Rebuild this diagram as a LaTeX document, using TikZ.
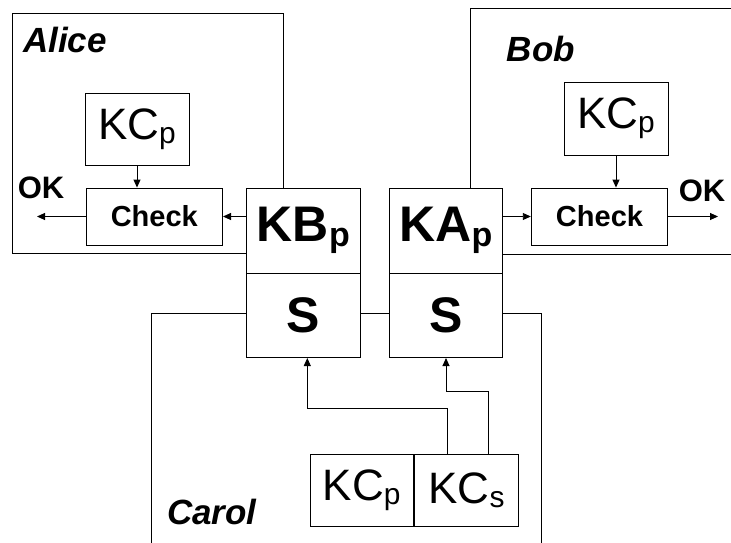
\documentclass[tikz,border=0pt]{standalone}
\usepackage{fontspec}
\setmainfont{Liberation Sans}
\usetikzlibrary{arrows.meta}
\newcommand\sbs[1]{\raisebox{-0.1em}{\scalebox{0.68}{#1}}}
\tikzset{
	box/.style={draw,inner sep=0pt},
	kc/.style={box,font=\fontsize{44}{44}\selectfont},
	key/.style={box,minimum width=113.5pt,font=\bfseries\fontsize{50}{50}\selectfont},
	check/.style={box,minimum width=136.5pt,minimum height=57pt,font=\bfseries\fontsize{29}{29}\selectfont},
	ok/.style={font=\bfseries\fontsize{31}{31}\selectfont},
	party/.style={font=\bfseries\itshape\fontsize{35}{35}\selectfont}
}
\begin{document}
\begin{tikzpicture}[x=1pt,y=-1pt,line width=0.9pt,>={Triangle[length=8pt,width=7pt]}]
		\useasboundingbox (0,0) rectangle (731,542);
		% keys in the middle
		\node[key,minimum height=84.7pt] (kb) at (303.3,230.6) {KB\sbs{p}};
		\node[key,minimum height=83.7pt,anchor=north] (kbs) at (kb.south) {S};
		\node[key,minimum height=84.7pt] (ka) at (446,230.6) {KA\sbs{p}};
		\node[key,minimum height=83.7pt,anchor=north] (kas) at (ka.south) {S};
		% Alice
		\node[party] (alice) at (65,40) {Alice};
		\node[kc,minimum width=104pt,minimum height=72pt] (alicekc) at (137,129) {KC\sbs{p}};
		\node[check] (alicecheck) at (154.3,216.5) {Check};
		\node[ok] (aliceok) at (41,188) {OK};
		\coordinate (aliceout) at (37,216.5);
		\draw[->] (alicekc.south) -- (alicekc.south |- alicecheck.north);
		\draw[->] (kb.west |- alicecheck.east) -- (alicecheck.east);
		\draw[->] (alicecheck.west) -- (aliceout);
		\draw ([yshift=-22.6pt]kb.west) -| (12,13) -| ([xshift=-20.3pt]kb.north);
		% Bob
		\node[party] (bob) at (541,49) {Bob};
		\node[kc,minimum width=104pt,minimum height=73pt] (bobkc) at (616,118.5) {KC\sbs{p}};
		\node[check] (bobcheck) at (599.5,216.5) {Check};
		\node[ok] (bobok) at (702,191) {OK};
		\coordinate (bobout) at (718,216.5);
		\draw[->] (bobkc.south) -- (bobkc.south |- bobcheck.north);
		\draw[->] (ka.east |- bobcheck.west) -- (bobcheck.west);
		\draw[->] (bobcheck.east) -- (bobout);
		\draw ([xshift=24pt]ka.north) |- (735,8.3);
		\draw ([yshift=-23.7pt]ka.east) -- (735,254.3);
		% Carol
		\node[party] (carol) at (212,512) {Carol};
		\node[kc,minimum width=103.3pt,minimum height=72.7pt] (carolkcp) at (361.7,490.3) {KC\sbs{p}};
		\node[kc,minimum width=104.4pt,minimum height=72.7pt,anchor=west] (carolkcs) at (carolkcp.east) {KC\sbs{s}};
		\draw[->] ([xshift=-19.5pt]carolkcs.north) -- ++(0,-44.7) -| ([xshift=4pt]kbs.south);
		\draw[->] ([xshift=22.2pt]carolkcs.north) -- ++(0,-62.3) -| (kas.south);
		\draw ([yshift=2.5pt]kbs.west) -| (151.7,546);
		\draw ([yshift=2.5pt]kbs.east) -- ([yshift=2.5pt]kas.west);
		\draw ([yshift=2.5pt]kas.east) -| (541.7,546);
	\end{tikzpicture}
\end{document}
